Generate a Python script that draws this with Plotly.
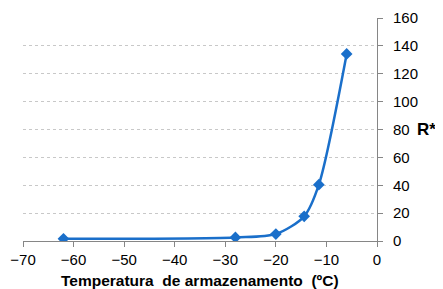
import plotly.graph_objects as go

temps = [-62, -28, -20, -14.4, -11.5, -6]
r_star = [1.6, 2.6, 5.0, 17.7, 40.4, 134.2]
x_ticks = [-70, -60, -50, -40, -30, -20, -10, 0]
y_ticks = [0, 20, 40, 60, 80, 100, 120, 140, 160]

color = "#1a6fca"
fig = go.Figure()
fig.add_trace(go.Scatter(
    x=temps, y=r_star, mode="lines+markers",
    line=dict(color=color, width=2.5, shape="spline", smoothing=0.8),
    marker=dict(symbol="diamond", size=9, color=color),
    showlegend=False,
))

font = "Liberation Sans, Arial, sans-serif"
fig.update_layout(
    width=435, height=281,
    margin=dict(l=15, r=66, t=10, b=48),
    plot_bgcolor="white", paper_bgcolor="white",
    font=dict(family=font, size=15, color="black"),
)
fig.update_xaxes(
    range=[-70, 0], tickvals=x_ticks, showgrid=False, zeroline=False,
    showline=True, linecolor="#868686", linewidth=1,
    ticks="outside", ticklen=5, tickcolor="#868686",
    tickfont=dict(size=15), automargin=False, ticklabelstandoff=0,
)
fig.update_yaxes(
    range=[0, 160], tickvals=y_ticks, side="right",
    showgrid=True, gridcolor="#c8c8c8", griddash="dot", gridwidth=1,
    zeroline=False, showline=True, linecolor="#868686", linewidth=1,
    ticks="outside", ticklen=5, tickcolor="#868686",
    tickfont=dict(size=15), ticklabelstandoff=7, automargin=False,
)
fig.add_annotation(
    text="<b>Temperatura  de armazenamento  (ºC)</b>", x=0.5, xref="paper",
    y=-0.179, yref="paper", yanchor="middle", showarrow=False,
    font=dict(size=15.5),
)
fig.add_annotation(
    text="<b>R*</b>", x=1, xref="paper", xanchor="right", xshift=61,
    y=80, yref="y", showarrow=False, font=dict(size=17),
)
fig.write_html("out.html")
